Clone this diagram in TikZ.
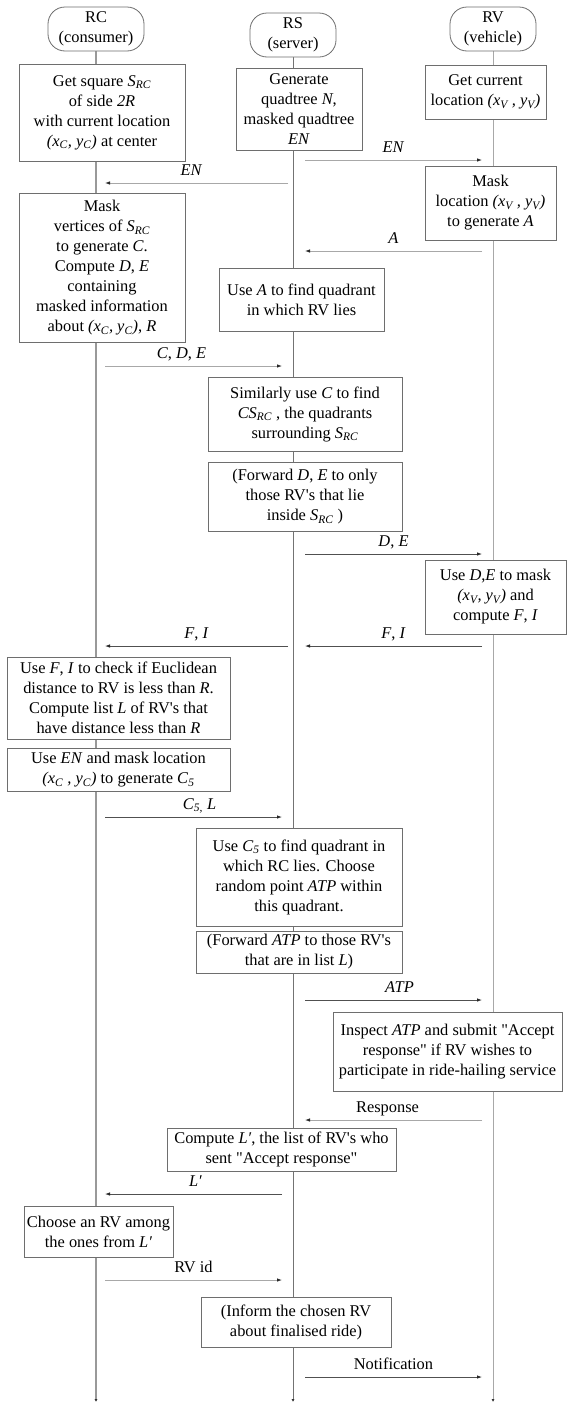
\documentclass[tikz,border=0pt]{standalone}
\usepackage{fontspec}
\setmainfont{Liberation Serif}
\usetikzlibrary{arrows.meta,backgrounds}

% a white sheet below the background layer
\pgfdeclarelayer{sheet}
\pgfsetlayers{sheet,background,main}

% italic letter with italic subscript
\newcommand{\isub}[2]{\textit{#1}\textsubscript{\textit{#2}}}
\newcommand{\rvs}{RV\textquotesingle s}
\newcommand{\accept}{\textquotedbl Accept response\textquotedbl}
% process box given by its corners: name, x1, y1, x2, y2, text
\newcommand{\procbox}[6]{%
  \node[stepbox, minimum width={#4-#2}, minimum height={#5-#3}]
    (#1) at ({(#2+#4)/2},{(#3+#5)/2}) {#6};}
% actor header given by its corners
\newcommand{\actor}[6]{%
  \node[head, minimum width={#4-#2}, minimum height={#5-#3}]
    (#1) at ({(#2+#4)/2},{(#3+#5)/2}) {#6};}

\definecolor{boxgray}{HTML}{6E6E6E}
\definecolor{darkmsg}{HTML}{505050}
\definecolor{lightmsg}{HTML}{A8A8A8}

\begin{document}
\begin{tikzpicture}[x=1pt,y=-1pt,
  every node/.style={font=\fontsize{16.4}{20}\selectfont},
  head/.style={draw=boxgray, line width=0.8pt, rounded corners=17pt,
    fill=white, align=center, inner sep=0pt},
  stepbox/.style={draw=boxgray, line width=0.8pt, fill=white,
    align=center, inner sep=0pt},
  life/.style={draw=lightmsg, line width=1pt,
    -{Latex[length=3pt,width=3pt,color=black!80]}},
  msg/.style={draw=darkmsg, line width=0.8pt,
    -{Latex[length=5pt,width=3.5pt,color=black!85]}},
  msglight/.style={msg, draw=lightmsg},
  lbl/.style={midway, above=4.5pt, inner sep=0pt, text height=11pt, text depth=3pt},
]
\useasboundingbox (0,0) rectangle (566,1403);
\begin{pgfonlayer}{sheet}
  \fill[white] (0,0) rectangle (566,1403);
\end{pgfonlayer}

% actors
\actor{hRC}{48}{7}{144}{51}{RC\\(consumer)}
\actor{hRS}{250}{13}{336}{57}{RS\\(server)}
\actor{hRV}{450}{7}{536}{51}{RV\\(vehicle)}

% ends of the lifelines
\coordinate (eC) at (96,1402);
\coordinate (eS) at (293,1402);
\coordinate (eV) at (493,1402);

% RC steps
\procbox{c1}{19}{64}{185}{161}{Get square \isub{S}{RC}\\of side \textit{2R}\\with current location\\\textit{(x\textsubscript{C}, y\textsubscript{C})} at center}
\procbox{c2}{19}{193}{185}{342}{Mask\\vertices of \isub{S}{RC}\\to generate \textit{C}.\\Compute \textit{D}, \textit{E}\\containing\\masked information\\about \textit{(x\textsubscript{C}, y\textsubscript{C})}, \textit{R}}
\procbox{c3}{7}{657}{230}{739}{Use \textit{F}, \textit{I} to check if Euclidean\\distance to RV is less than \textit{R}.\\Compute list \textit{L} of \rvs{} that\\have distance less than \textit{R}}
\procbox{c4}{7}{748}{230}{791}{Use \textit{EN} and mask location\\\textit{(x\textsubscript{C} , y\textsubscript{C})} to generate \isub{C}{5}}
\procbox{c5}{24}{1206}{173}{1257}{Choose an RV among\\the ones from \textit{L′}}

% RS steps
\procbox{s1}{236}{68}{362}{150}{Generate\\quadtree \textit{N},\\masked quadtree\\\textit{EN}}
\procbox{s2}{219}{268}{384}{331}{Use \textit{A} to find quadrant\\in which RV lies}
\procbox{s3}{208}{377}{402}{451}{Similarly use \textit{C} to find\\\textit{CS\textsubscript{RC}} , the quadrants\\surrounding \isub{S}{RC}}
\procbox{s4}{208}{462}{402}{531}{(Forward \textit{D}, \textit{E} to only\\those \rvs{} that lie\\inside \isub{S}{RC} )}
\procbox{s5}{196}{828}{402}{926}{Use \isub{C}{5} to find quadrant in\\which RC lies. Choose\\random point \textit{ATP} within\\this quadrant.}
\procbox{s6}{196}{931}{402}{973}{(Forward \textit{ATP} to those \rvs\\that are in list \textit{L})}
\procbox{s7}{167}{1128}{396}{1171}{Compute \textit{L′}, the list of \rvs{} who\\sent \accept}
\procbox{s8}{201}{1297}{391}{1347}{(Inform the chosen RV\\about finalised ride)}

% RV steps
\procbox{v1}{425}{65}{546}{119}{Get current\\location \textit{(x\textsubscript{V} , y\textsubscript{V})}}
\procbox{v2}{425}{166}{556}{240}{Mask\\location \textit{(x\textsubscript{V} , y\textsubscript{V})}\\to generate \textit{A}}
\procbox{v3}{425}{560}{566}{634}{Use \textit{D},\textit{E} to mask\\\textit{(x\textsubscript{V}, y\textsubscript{V})} and\\compute \textit{F}, \textit{I}}
\procbox{v4}{333}{1012}{562}{1091}{Inspect \textit{ATP} and submit \textquotedbl Accept\\response\textquotedbl{} if RV wishes to\\participate in ride-hailing service}

% lifelines run behind the steps
\begin{scope}[on background layer]
  \draw[life, line width=1.4pt, draw=black!40] (hRC.south) -- (eC);
  \draw[life, draw=black!55] (hRS.south) -- (eS);
  \draw[life] (hRV.south) -- (eV);
\end{scope}

% message end points
\coordinate (m1a) at (305,160);  \coordinate (m1b) at (482,160);
\coordinate (m2a) at (288,183);  \coordinate (m2b) at (105,183);
\coordinate (m3a) at (482,251);  \coordinate (m3b) at (305,251);
\coordinate (m4a) at (105,366);  \coordinate (m4b) at (282,366);
\coordinate (m5a) at (305,554);  \coordinate (m5b) at (482,554);
\coordinate (m6a) at (482,646);  \coordinate (m6b) at (305,646);
\coordinate (m7a) at (288,646);  \coordinate (m7b) at (105,646);
\coordinate (m8a) at (105,817);  \coordinate (m8b) at (282,817);
\coordinate (m9a) at (305,1000); \coordinate (m9b) at (482,1000);
\coordinate (m10a) at (482,1120); \coordinate (m10b) at (305,1120);
\coordinate (m11a) at (282,1194); \coordinate (m11b) at (105,1194);
\coordinate (m12a) at (105,1280); \coordinate (m12b) at (282,1280);
\coordinate (m13a) at (305,1377); \coordinate (m13b) at (482,1377);

% messages
\draw[msglight] (m1a) -- node[lbl]{\textit{EN}} (m1b);
\draw[msglight] (m2a) -- node[lbl, xshift=-5pt]{\textit{EN}} (m2b);
\draw[msglight] (m3a) -- node[lbl]{\textit{A}} (m3b);
\draw[msglight] (m4a) -- node[lbl, xshift=-12pt]{\textit{C}, \textit{D}, \textit{E}} (m4b);
\draw[msg] (m5a) -- node[lbl]{\textit{D}, \textit{E}} (m5b);
\draw[msg] (m6a) -- node[lbl]{\textit{F}, \textit{I}} (m6b);
\draw[msg] (m7a) -- node[lbl]{\textit{F}, \textit{I}} (m7b);
\draw[msg] (m8a) -- node[lbl, xshift=6pt]{\isub{C}{5,} \textit{L}} (m8b);
\draw[msg] (m9a) -- node[lbl, xshift=6pt]{\textit{ATP}} (m9b);
\draw[msglight] (m10a) -- node[lbl, xshift=-6pt]{Response} (m10b);
\draw[msg] (m11a) -- node[lbl, xshift=2pt]{\textit{L′}} (m11b);
\draw[msglight] (m12a) -- node[lbl]{RV id} (m12b);
\draw[msg] (m13a) -- node[lbl]{Notification} (m13b);
\end{tikzpicture}
\end{document}
